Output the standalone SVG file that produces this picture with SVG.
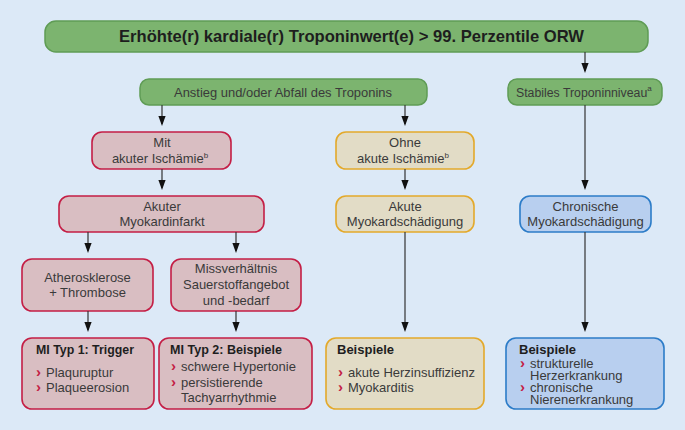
<svg xmlns="http://www.w3.org/2000/svg" width="685" height="430" viewBox="0 0 685 430">
<defs>
<style>
.g{fill:#7cb46f;stroke:#5f9c55;stroke-width:1.5}
.r{fill:#d9bec2;stroke:#c41e45;stroke-width:1.6}
.y{fill:#e2dcc6;stroke:#e3a92b;stroke-width:1.6}
.b{fill:#b8cfef;stroke:#2c7cc8;stroke-width:1.6}
text{font-family:"Liberation Sans",Arial,sans-serif;font-size:13px;fill:#3a3a3a}
.c{text-anchor:middle}
.h{font-weight:bold;fill:#1e1e1e}
.bu{fill:#c41e45;font-weight:bold;font-size:15px}
.sup{font-size:8px}
.con line{stroke:#333;stroke-width:1.2;marker-end:url(#ah)}
</style>
<marker id="ah" markerUnits="userSpaceOnUse" viewBox="0 -4 10 8" refX="8" refY="0" markerWidth="10" markerHeight="8" orient="auto">
<path d="M0,-3.6 L10,0 L0,3.6 Z" fill="#111"/>
</marker>
</defs>
<rect width="685" height="430" fill="#dce9f7"/>

<g id="top">
<rect class="g" x="45" y="21" width="603" height="31" rx="11"/>
<text class="h" x="119" y="42" style="font-size:17px" textLength="465" lengthAdjust="spacingAndGlyphs">Erhöhte(r) kardiale(r) Troponinwert(e) &gt; 99. Perzentile ORW</text>
</g>

<g id="anstieg">
<rect class="g" x="140" y="79" width="287" height="26" rx="9"/>
<text x="174" y="97" textLength="218" lengthAdjust="spacingAndGlyphs">Anstieg und/oder Abfall des Troponins</text>
</g>

<g id="stabiles">
<rect class="g" x="508" y="79" width="154" height="26" rx="9"/>
<text x="516" y="97" style="font-size:12.3px">Stabiles Troponinniveau<tspan class="sup" dy="-6">a</tspan></text>
</g>

<g id="mit">
<rect class="r" x="92" y="132" width="139" height="37" rx="10"/>
<text class="c" x="162" y="147">Mit</text>
<text class="c" x="160" y="163">akuter Ischämie<tspan class="sup" dy="-5">b</tspan></text>
</g>

<g id="ohne">
<rect class="y" x="336" y="132" width="138" height="37" rx="10"/>
<text class="c" x="405" y="147">Ohne</text>
<text class="c" x="403" y="163">akute Ischämie<tspan class="sup" dy="-5">b</tspan></text>
</g>

<g id="akuterMI">
<rect class="r" x="59" y="196" width="205" height="36" rx="10"/>
<text class="c" x="162" y="211">Akuter</text>
<text class="c" x="162" y="226">Myokardinfarkt</text>
</g>

<g id="akuteMS">
<rect class="y" x="336" y="196" width="138" height="36" rx="10"/>
<text class="c" x="405" y="211">Akute</text>
<text class="c" x="405" y="226">Myokardschädigung</text>
</g>

<g id="chronMS">
<rect class="b" x="520" y="196" width="131" height="36" rx="10"/>
<text class="c" x="585.5" y="211">Chronische</text>
<text class="c" x="585.5" y="226">Myokardschädigung</text>
</g>

<g id="athero">
<rect class="r" x="22" y="259" width="131" height="52" rx="10"/>
<text class="c" x="87.5" y="282">Atherosklerose</text>
<text class="c" x="87.5" y="297">+ Thrombose</text>
</g>

<g id="missv">
<rect class="r" x="171" y="259" width="130" height="52" rx="10"/>
<text class="c" x="236" y="273">Missverhältnis</text>
<text class="c" x="236" y="289">Sauerstoffangebot</text>
<text class="c" x="236" y="305">und -bedarf</text>
</g>

<g id="mi1">
<rect class="r" x="22" y="338" width="132" height="71" rx="10"/>
<text class="h" x="36" y="354" textLength="98" lengthAdjust="spacingAndGlyphs">MI Typ 1: Trigger</text>
<text class="bu" x="36" y="377">›</text><text x="46" y="377">Plaquruptur</text>
<text class="bu" x="36" y="392">›</text><text x="46" y="392">Plaqueerosion</text>
</g>

<g id="mi2">
<rect class="r" x="159" y="338" width="153" height="71" rx="10"/>
<text class="h" x="170" y="354" textLength="112" lengthAdjust="spacingAndGlyphs">MI Typ 2: Beispiele</text>
<text class="bu" x="171" y="371">›</text><text x="181" y="371">schwere Hypertonie</text>
<text class="bu" x="171" y="387">›</text><text x="181" y="387">persistierende</text>
<text x="181" y="402">Tachyarrhythmie</text>
</g>

<g id="bsp-akut">
<rect class="y" x="326" y="338" width="158" height="71" rx="10"/>
<text class="h" x="337" y="354">Beispiele</text>
<text class="bu" x="338" y="377">›</text><text x="348" y="377">akute Herzinsuffizienz</text>
<text class="bu" x="338" y="392">›</text><text x="348" y="392">Myokarditis</text>
</g>

<g id="bsp-chron">
<rect class="b" x="506" y="338" width="158" height="71" rx="10"/>
<text class="h" x="519" y="354">Beispiele</text>
<text class="bu" x="520" y="368">›</text><text x="530" y="368">strukturelle</text>
<text x="530" y="380">Herzerkrankung</text>
<text class="bu" x="520" y="392">›</text><text x="530" y="392">chronische</text>
<text x="530" y="404">Nierenerkrankung</text>
</g>

<g id="connectors" class="con">
<line x1="585" y1="52" x2="585" y2="71"/>
<line x1="162" y1="105" x2="162" y2="124"/>
<line x1="405" y1="105" x2="405" y2="124"/>
<line x1="162" y1="169" x2="162" y2="188"/>
<line x1="405" y1="169" x2="405" y2="188"/>
<line x1="585" y1="105" x2="585" y2="188"/>
<line x1="88" y1="232" x2="88" y2="251"/>
<line x1="236" y1="232" x2="236" y2="251"/>
<line x1="88" y1="311" x2="88" y2="330"/>
<line x1="236" y1="311" x2="236" y2="330"/>
<line x1="405" y1="232" x2="405" y2="330"/>
<line x1="585" y1="232" x2="585" y2="330"/>
</g>
</svg>
